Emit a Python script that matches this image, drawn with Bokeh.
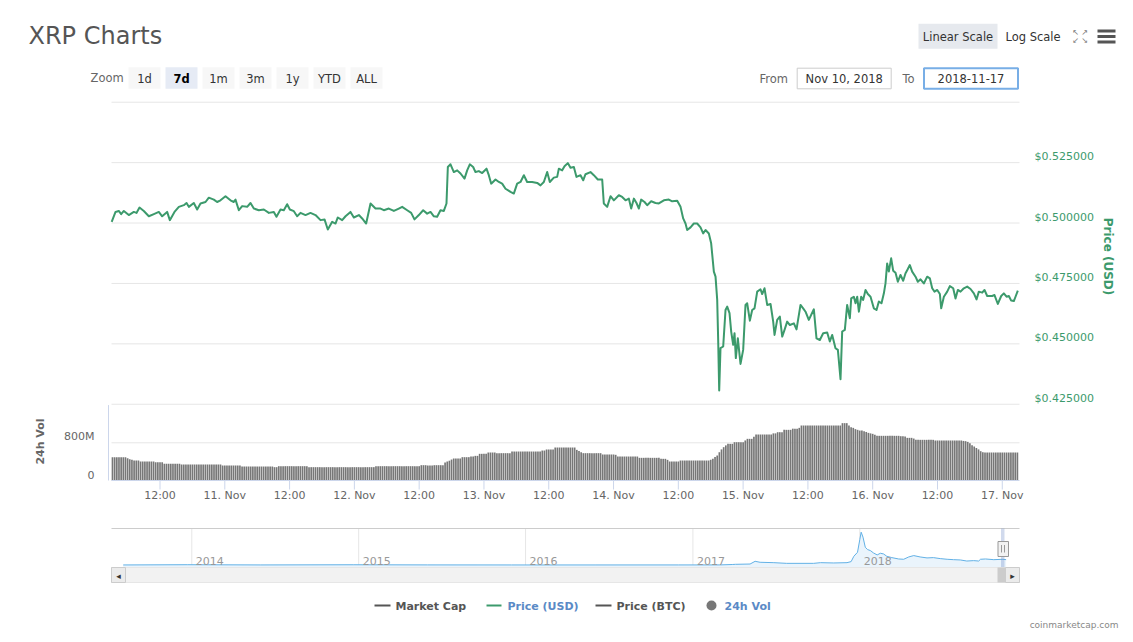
import math
import pandas as pd
from bokeh.plotting import figure
from bokeh.models import (Range1d, BoxAnnotation, Label, LabelSet, ColumnDataSource)
from bokeh.core.properties import value
from bokeh.embed import file_html
from bokeh.resources import INLINE

# ---------------- data ----------------
START = "2018-11-10 00:00"
WINDOW_START = "2018-11-10 03:00:54"
WINDOW_END = "2018-11-17 03:11:24"
PRICE_HOURS = [
    3.05, 3.76, 4.37, 4.80, 5.30, 6.22, 7.15, 7.64, 8.20, 9.00, 9.93, 10.86, 11.78, 12.40, 13.32,
    13.82, 14.68, 15.49, 16.41, 16.91, 17.34, 18.26, 18.88, 19.50, 20.43, 21.04, 21.97, 22.58,
    23.20, 24.13, 25.05, 25.67, 25.98, 26.60, 27.22, 28.14, 28.76, 29.38, 30.30, 31.23, 32.16,
    33.08, 33.57, 34.32, 34.93, 35.55, 36.05, 36.79, 37.40, 38.02, 38.95, 39.87, 40.80, 41.73,
    42.47, 43.08, 43.89, 44.50, 44.93, 45.74, 46.36, 47.28, 47.90, 48.83, 49.44, 50.18, 50.99,
    51.91, 52.84, 53.46, 54.38, 55.31, 56.23, 56.85, 57.78, 58.52, 59.13, 59.94, 60.74, 61.48,
    62.10, 62.72, 63.33, 63.95, 64.57, 65.06, 65.31, 65.80, 66.42, 67.04, 67.66, 68.40, 68.89,
    69.38, 70.00, 70.43, 71.05, 71.67, 72.47, 72.90, 73.34, 74.14, 74.76, 75.37, 75.99, 76.92,
    77.53, 78.15, 78.77, 79.39, 80.00, 80.93, 81.86, 82.47, 83.09, 83.71, 84.20, 84.94, 85.56,
    85.87, 86.49, 86.92, 87.53, 88.03, 88.65, 89.14, 89.88, 90.38, 90.81, 91.73, 92.35, 93.09,
    93.90, 94.20, 94.82, 95.44, 96.06, 96.98, 97.60, 98.22, 98.84, 99.27, 99.76, 100.25, 100.69,
    101.12, 101.74, 102.23, 102.97, 103.77, 104.39, 105.32, 106.24, 106.86, 107.79, 108.41,
    108.90, 109.33, 109.64, 110.26, 110.87, 111.49, 112.11, 112.60, 113.04, 113.65, 114.08,
    114.58, 114.89, 115.20, 115.38, 115.57, 115.81, 116.31, 116.74, 117.05, 117.48, 117.79,
    118.16, 118.41, 118.65, 119.02, 119.52, 120.01, 120.44, 120.75, 121.25, 121.68, 122.11,
    122.61, 123.22, 123.53, 123.96, 124.46, 125.08, 125.57, 125.82, 126.31, 126.80, 127.24,
    127.67, 128.16, 128.66, 129.40, 129.89, 130.63, 131.12, 131.56, 132.17, 133.10, 133.59,
    134.21, 134.83, 135.57, 136.06, 136.50, 137.11, 137.55, 138.04, 138.35, 138.84, 139.27,
    139.77, 140.02, 140.51, 140.82, 141.13, 141.44, 141.87, 142.24, 142.67, 143.10, 143.60,
    144.21, 144.71, 145.14, 145.63, 146.07, 146.37, 146.68, 146.99, 147.42, 147.79, 148.23,
    148.66, 149.15, 149.65, 150.08, 150.39, 150.88, 151.31, 151.93, 152.36, 152.86, 153.47,
    154.09, 154.59, 155.02, 155.45, 155.95, 156.44, 156.69, 157.18, 157.80, 158.29, 158.91,
    159.34, 159.77, 160.27, 160.88, 161.50, 162.12, 162.74, 163.23, 163.66, 164.28, 164.71,
    165.21, 166.13, 166.56, 167.18, 167.80, 168.29, 168.79, 169.22, 169.65, 170.14, 170.45,
    170.88,
]
PRICE_USD = [
    0.5005, 0.5046, 0.5050, 0.5037, 0.5050, 0.5033, 0.5046, 0.5042, 0.5064, 0.5050, 0.5028,
    0.5037, 0.5046, 0.5028, 0.5046, 0.5012, 0.5046, 0.5067, 0.5074, 0.5083, 0.5067, 0.5083,
    0.5056, 0.5081, 0.5087, 0.5105, 0.5097, 0.5087, 0.5094, 0.5111, 0.5094, 0.5087, 0.5097,
    0.5053, 0.5070, 0.5067, 0.5083, 0.5060, 0.5053, 0.5056, 0.5042, 0.5046, 0.5026, 0.5056,
    0.5053, 0.5078, 0.5056, 0.5049, 0.5028, 0.5042, 0.5033, 0.5042, 0.5033, 0.5012, 0.5015,
    0.4973, 0.5005, 0.4998, 0.5023, 0.5012, 0.5028, 0.5046, 0.5023, 0.5033, 0.5019, 0.4998,
    0.5081, 0.5060, 0.5060, 0.5053, 0.5060, 0.5050, 0.5060, 0.5067, 0.5053, 0.5042, 0.5015,
    0.5033, 0.5053, 0.5039, 0.5046, 0.5028, 0.5026, 0.5053, 0.5050, 0.5081, 0.5232, 0.5243,
    0.5211, 0.5218, 0.5205, 0.5184, 0.5218, 0.5243, 0.5232, 0.5211, 0.5215, 0.5207, 0.5225,
    0.5198, 0.5163, 0.5180, 0.5170, 0.5163, 0.5142, 0.5129, 0.5122, 0.5163, 0.5170, 0.5198,
    0.5170, 0.5170, 0.5166, 0.5156, 0.5170, 0.5211, 0.5170, 0.5188, 0.5191, 0.5225, 0.5218,
    0.5235, 0.5248, 0.5229, 0.5232, 0.5191, 0.5198, 0.5177, 0.5202, 0.5211, 0.5198, 0.5180,
    0.5180, 0.5081, 0.5067, 0.5111, 0.5094, 0.5115, 0.5108, 0.5094, 0.5101, 0.5060, 0.5101,
    0.5083, 0.5060, 0.5097, 0.5087, 0.5074, 0.5090, 0.5083, 0.5081, 0.5094, 0.5097, 0.5090,
    0.5092, 0.5067, 0.5019, 0.4998, 0.4971, 0.4982, 0.4998, 0.4998, 0.4982, 0.4957, 0.4971,
    0.4957, 0.4916, 0.4799, 0.4778, 0.4682, 0.4516, 0.4307, 0.4482, 0.4489, 0.4640, 0.4654,
    0.4627, 0.4551, 0.4496, 0.4544, 0.4441, 0.4523, 0.4417, 0.4475, 0.4661, 0.4668, 0.4596,
    0.4640, 0.4647, 0.4716, 0.4726, 0.4706, 0.4730, 0.4661, 0.4665, 0.4592, 0.4537, 0.4599,
    0.4613, 0.4530, 0.4558, 0.4592, 0.4578, 0.4585, 0.4560, 0.4661, 0.4647, 0.4633, 0.4599,
    0.4643, 0.4523, 0.4516, 0.4544, 0.4547, 0.4510, 0.4537, 0.4482, 0.4475, 0.4354, 0.4551,
    0.4558, 0.4661, 0.4606, 0.4688, 0.4695, 0.4668, 0.4695, 0.4633, 0.4695, 0.4682, 0.4723,
    0.4706, 0.4695, 0.4647, 0.4640, 0.4675, 0.4668, 0.4709, 0.4750, 0.4833, 0.4799, 0.4854,
    0.4803, 0.4794, 0.4757, 0.4785, 0.4761, 0.4792, 0.4805, 0.4826, 0.4799, 0.4778, 0.4757,
    0.4767, 0.4750, 0.4778, 0.4771, 0.4730, 0.4716, 0.4723, 0.4706, 0.4647, 0.4695, 0.4716,
    0.4739, 0.4730, 0.4688, 0.4723, 0.4716, 0.4730, 0.4737, 0.4727, 0.4709, 0.4684, 0.4716,
    0.4712, 0.4723, 0.4698, 0.4698, 0.4702, 0.4665, 0.4698, 0.4709, 0.4695, 0.4698, 0.4679,
    0.4677, 0.4695, 0.4720,
]

VOL_START = "2018-11-10 03:00"
VOL_STEP_MIN = 24
VOLUME_M = [
    495, 495, 495, 495, 495, 495, 495, 474, 450, 438, 424, 424, 424,
    403, 403, 403, 403, 403, 403, 403, 389, 389, 389, 389,
    354, 354, 354, 354, 354, 354, 354, 354,
    340, 340, 340, 340, 340, 340, 340, 340, 340, 340, 340, 340, 340, 340, 340, 340, 340, 340, 340,
    318, 318, 318, 318, 318, 318, 318, 318, 318,
    297, 297, 297, 297, 297, 297, 297, 297, 297, 297, 297, 297, 297, 297, 297,
    283, 283,
    304, 304, 304, 304, 304, 304, 304, 304, 304, 304, 304, 304, 304, 304,
    283, 283, 283, 283, 283, 283, 283, 283, 283, 283, 283, 283, 283, 283, 283, 283,
    283, 283, 283, 283, 283, 283, 283, 283, 283, 283, 283, 283, 283, 283, 283,
    304, 304, 304, 304, 304, 304, 304, 304, 304, 304, 304, 304, 304, 304, 304, 304,
    304, 304, 304, 304, 304,
    325, 325, 325, 318, 318, 318, 325, 325, 325, 325, 325,
    380, 403, 420, 445,
    467, 467, 467, 467, 495, 495, 495, 495, 510, 510, 523, 523,
    566, 566, 566, 566, 594, 594, 594, 594,
    580, 580, 580, 580, 580, 580, 580,
    615, 615, 615, 615, 615, 615, 615, 615, 615, 615, 615, 615, 615, 615,
    636, 636, 658, 658, 658, 658,
    700, 700, 700, 700, 700, 700, 700, 700, 700, 700,
    650, 625, 601,
    580, 580, 580, 580, 580, 580, 580, 580, 580,
    552, 552, 552, 552, 552, 552, 545,
    509, 509, 509, 509, 509, 509, 509, 509, 509, 509,
    481, 481, 481, 481, 481, 481, 481, 481, 481, 481,
    460, 460, 460, 438,
    403, 403, 403, 403, 403,
    424, 424, 424, 424, 424, 424, 424, 424, 424, 424, 424, 424, 424, 424,
    440, 460, 500, 530, 600, 660, 707, 745,
    778, 778, 778, 813, 813, 813, 813, 813, 850, 884, 884, 884, 930,
    976, 976, 976, 976, 976, 976, 976, 976, 1000, 1000, 1025, 1025, 1025,
    1075, 1075, 1075, 1075, 1100, 1100, 1100, 1117,
    1167, 1167, 1167, 1167, 1167, 1167, 1167, 1167, 1167, 1167, 1167, 1167, 1167, 1167,
    1167, 1167, 1167, 1167, 1167,
    1217, 1217, 1217,
    1167, 1130, 1117, 1090, 1075, 1060, 1060, 1047, 1030, 1011, 1000, 990, 970,
    948, 948, 948, 948, 948, 948, 948, 948, 948, 948, 948,
    940, 940, 933, 905, 905, 905, 890,
    863, 863, 863, 863, 863, 863, 863, 863, 863,
    849, 849, 849, 849, 849, 849, 849, 849, 849, 849, 849, 849, 849,
    840, 835, 820, 790, 750, 721, 690, 660, 622, 600,
    594, 594, 594, 594, 594, 594, 594, 594, 594, 594, 594, 594, 594, 594, 594, 594,
]

TICK_TIMES = ["2018-11-10 12:00", "2018-11-11 00:00", "2018-11-11 12:00", "2018-11-12 00:00",
              "2018-11-12 12:00", "2018-11-13 00:00", "2018-11-13 12:00", "2018-11-14 00:00",
              "2018-11-14 12:00", "2018-11-15 00:00", "2018-11-15 12:00", "2018-11-16 00:00",
              "2018-11-16 12:00", "2018-11-17 00:00"]
TICK_LABELS = ["12:00", "11. Nov", "12:00", "12. Nov", "12:00", "13. Nov", "12:00", "14. Nov",
               "12:00", "15. Nov", "12:00", "16. Nov", "12:00", "17. Nov"]
PRICE_TICKS = [0.425, 0.45, 0.475, 0.5, 0.525]
PRICE_GRID = [0.425, 0.45, 0.475, 0.5, 0.525, 0.55]
VOL_TICKS = [0, 800]
VOL_LABELS = ["0", "800M"]
VOL_TOP = 1600

NAV_DATES = ["2013-08-04", "2013-12-22", "2014-06-01", "2014-12-20", "2015-06-01", "2015-12-01",
             "2016-06-01", "2016-12-01", "2017-03-01", "2017-03-28", "2017-04-04", "2017-05-06",
             "2017-05-17", "2017-05-28", "2017-06-27", "2017-07-25", "2017-09-22", "2017-10-07",
             "2017-11-05", "2017-12-04", "2017-12-13", "2017-12-19", "2017-12-27", "2018-01-01",
             "2018-01-04", "2018-01-08", "2018-01-13", "2018-01-18", "2018-01-24", "2018-01-31",
             "2018-02-08", "2018-02-15", "2018-02-22", "2018-03-01", "2018-03-12", "2018-03-27",
             "2018-04-07", "2018-04-18", "2018-04-29", "2018-05-13", "2018-05-28", "2018-06-11",
             "2018-06-26", "2018-07-11", "2018-07-25", "2018-08-09", "2018-08-23", "2018-09-07",
             "2018-09-18", "2018-09-22", "2018-10-03", "2018-10-21", "2018-11-10", "2018-11-17"]
NAV_PRICE = [0.006, 0.03, 0.008, 0.025, 0.01, 0.006, 0.006, 0.007, 0.01, 0.05, 0.07, 0.10,
             0.38, 0.28, 0.24, 0.17, 0.17, 0.24, 0.21, 0.24, 0.35, 0.90, 1.31, 2.62,
             3.38, 2.87, 1.83, 1.59, 1.49, 1.24, 1.04, 1.21, 1.14, 0.90, 0.76, 0.62,
             0.59, 0.83, 0.97, 0.83, 0.73, 0.76, 0.66, 0.59, 0.55, 0.52, 0.41, 0.45,
             0.41, 0.59, 0.62, 0.55, 0.59, 0.55]
NAV_YEARS = ["2014-01-01", "2015-01-01", "2016-01-01", "2017-01-01", "2018-01-01"]
NAV_YEAR_LABELS = ["2014", "2015", "2016", "2017", "2018"]

ZOOM_BUTTONS = ["1d", "7d", "1m", "3m", "1y", "YTD", "ALL"]
LEGEND_ITEMS = ["Market Cap", "Price (USD)", "Price (BTC)", "24h Vol"]

# ---------------- styles / layout ----------------
GREEN = "#3c9a6c"
FONT = "DejaVu Sans"
W, H = 1130, 640


def ms(t):
    return pd.Timestamp(t).value / 1e6


# page layout: main plot area x 111..1019, price panel y 101..404, volume y 404..480,
# navigator y 528..567, scrollbar 567..582
PX0, PX1 = 111, 1019
TW0, TW1 = ms(WINDOW_START), ms(WINDOW_END)
t_px = (TW1 - TW0) / (PX1 - PX0)
P_TOP, P_BOT = 0.5503, 0.4249          # values at page y 101 and 404
k_p = (P_TOP - P_BOT) / (404 - 101)
k_v = 800 / 37.7                       # volume units per px, 0 at page y 480
a_ms, b_ms = ms("2014-01-01"), ms("2018-01-01")
n_px = (b_ms - a_ms) / (859.3 - 191.3)  # navigator: 2014 at x 191.3, 2018 at x 859.3
usd_px = (564.5 - 531.7) / 3.38         # navigator: $0 at y 564.5, $3.38 at y 531.7
NAV_FLOOR = -(567 - 564.5) / usd_px
NAV_CEIL = (564.5 - 528) / usd_px

p = figure(width=W, height=H,
           x_range=Range1d(TW0 - PX0 * t_px, TW0 + (W - PX0) * t_px),
           y_range=Range1d(P_TOP - (H - 101) * k_p, P_TOP + 101 * k_p),
           x_axis_location=None, y_axis_location=None, output_backend="svg",
           toolbar_location=None, title=None,
           min_border_left=0, min_border_right=0, min_border_top=0, min_border_bottom=0)
p.outline_line_color = None
p.background_fill_color = "white"
p.border_fill_color = "white"
p.grid.visible = False
p.extra_y_ranges = {"vol": Range1d(-(H - 480) * k_v, 480 * k_v),
                    "nav": Range1d(-(H - 564.5) / usd_px, 564.5 / usd_px)}
p.extra_x_ranges = {"nav": Range1d(a_ms - 191.3 * n_px, a_ms + (W - 191.3) * n_px)}


def box(x0, x1, y0, y1, fill, line=None, lw=1, radius=0, alpha=1.0):
    p.add_layout(BoxAnnotation(left=x0, right=x1, top=H - y0, bottom=H - y1,
                               left_units="screen", right_units="screen",
                               top_units="screen", bottom_units="screen",
                               fill_color=fill, fill_alpha=alpha,
                               line_color=line, line_alpha=1.0 if line else 0.0,
                               line_width=lw, border_radius=radius))


def txt(s, x, y, size="12px", color="#333333", style="normal", align="left", angle=0.0):
    p.add_layout(Label(x=x, y=H - y, x_units="screen", y_units="screen", text=s,
                       text_font=FONT, text_font_size=size, text_color=color,
                       text_font_style=style, text_align=align, text_baseline="middle",
                       angle=angle))


# ---------- price panel ----------
t0 = ms(START)
price_src = ColumnDataSource(dict(t=[t0 + h * 3600000.0 for h in PRICE_HOURS], p=PRICE_USD))
p.segment(x0=TW0, x1=TW1, y0=PRICE_GRID, y1=PRICE_GRID, line_color="#e6e6e6", line_width=1)
p.line(x="t", y="p", source=price_src, line_color=GREEN, line_width=2, line_join="round")
p.add_layout(LabelSet(x=PX1 + 15, y="y", x_units="screen", y_offset=6, text="text",
                      source=ColumnDataSource(dict(y=PRICE_TICKS,
                                                   text=["${:.6f}".format(v) for v in PRICE_TICKS])),
                      text_font=value(FONT), text_font_size=value("11px"),
                      text_color=GREEN, text_baseline="middle", text_align="left"))
txt("Price (USD)", 1107, 256, size="12px", color=GREEN, style="bold", align="center",
    angle=-math.pi / 2)

# ---------- volume panel ----------
v0 = ms(VOL_START)
step = VOL_STEP_MIN * 60000.0
vol_src = ColumnDataSource(dict(t=[v0 + (i + 0.5) * step for i in range(len(VOLUME_M))],
                                v=VOLUME_M))
p.segment(x0=TW0, x1=TW1, y0=[VOL_TICKS[1]], y1=[VOL_TICKS[1]], y_range_name="vol",
          line_color="#e6e6e6", line_width=1)
p.vbar(x="t", top="v", bottom=0, width=step * 0.78, source=vol_src, y_range_name="vol",
       fill_color="#777777", line_color=None)
p.segment(x0=TW0, x1=TW1, y0=[0], y1=[0], y_range_name="vol", line_color="#ccd6eb", line_width=1)
p.segment(x0=TW0 - 3 * t_px, x1=TW0 - 3 * t_px, y0=[0], y1=[VOL_TOP], y_range_name="vol",
          line_color="#ccd6eb", line_width=1)
tick_ms = [ms(t) for t in TICK_TIMES]
p.ray(x=tick_ms, y=0, length=9, length_units="screen", angle=-math.pi / 2, y_range_name="vol",
      line_color="#ccd6eb", line_width=1)
p.add_layout(LabelSet(x="x", y=H - 494.5, y_units="screen", text="text",
                      source=ColumnDataSource(dict(x=tick_ms, text=TICK_LABELS)),
                      text_font=value(FONT), text_font_size=value("11px"),
                      text_color="#666666", text_baseline="middle", text_align="center"))
p.add_layout(LabelSet(x=PX0 - 17, y="y", x_units="screen", y_offset=6, text="text",
                      y_range_name="vol",
                      source=ColumnDataSource(dict(y=VOL_TICKS, text=VOL_LABELS)),
                      text_font=value(FONT), text_font_size=value("11px"),
                      text_color="#666666", text_baseline="middle", text_align="right"))
txt("24h Vol", 40, 441, size="11px", color="#666666", style="bold", align="center",
    angle=math.pi / 2)

# ---------- navigator ----------
nav_src = ColumnDataSource(dict(t=[ms(d) for d in NAV_DATES], p=NAV_PRICE))
year_ms = [ms(d) for d in NAV_YEARS]
p.segment(x0=year_ms, x1=year_ms, y0=NAV_FLOOR, y1=NAV_CEIL, x_range_name="nav",
          y_range_name="nav", line_color="#e6e6e6", line_width=1)
p.varea(x="t", y1=NAV_FLOOR, y2="p", source=nav_src, x_range_name="nav", y_range_name="nav",
        fill_color="#eaf4fc")
p.line(x="t", y="p", source=nav_src, x_range_name="nav", y_range_name="nav",
       line_color="#62b1e6", line_width=1)
p.add_layout(LabelSet(x="x", y=H - 560.5, y_units="screen", text="text", x_range_name="nav",
                      source=ColumnDataSource(dict(x=year_ms, text=NAV_YEAR_LABELS)),
                      x_offset=4, text_font=value(FONT), text_font_size=value("11px"),
                      text_color="#999999", text_baseline="middle"))

box(111, 1019, 527.5, 528.5, "#cccccc")
box(1000.5, 1004, 528, 567, "#6685c2", alpha=0.3)
box(111, 1019, 567, 582, "#f2f2f2", line="#e6e6e6")
box(111, 125, 567, 582, "#ebebeb", line="#cccccc")
box(997, 1005, 567, 582, "#cccccc")
box(1005, 1019, 567, 582, "#ebebeb", line="#cccccc")
txt("\u25c2", 118, 575, size="9px", color="#333333", align="center")
txt("\u25b8", 1012, 575, size="9px", color="#333333", align="center")
box(997.5, 1008, 541, 556, "#f2f2f2", line="#999999")
box(1000.5, 1001.5, 544.5, 552, "#999999")
box(1003.5, 1004.5, 544.5, 552, "#999999")

# ---------- legend + credits ----------
LEG_COLORS = ["#555555", "#5a8ac6", "#555555", "#5a8ac6"]
LEG_TEXT_X = [395, 507, 616, 724]
SYM_COLORS = ["#555555", GREEN, "#555555", "#777777"]
box(374, 390, 604, 606, SYM_COLORS[0])
box(486, 501, 604, 606, SYM_COLORS[1])
box(595, 611, 604, 606, SYM_COLORS[2])
box(706, 716, 600, 610, SYM_COLORS[3], radius=5)
for name, col, x in zip(LEGEND_ITEMS, LEG_COLORS, LEG_TEXT_X):
    txt(name, x, 605.5, size="11px", color=col, style="bold")
txt("coinmarketcap.com", 1118, 624.5, size="9px", color="#888888", align="right")

# ---------- header ----------
txt("XRP Charts", 28, 35, size="24px", color="#555555")
txt("Zoom", 90, 77.5, size="11.5px", color="#666666")
for i, b in enumerate(ZOOM_BUTTONS):
    x0 = 128 + 37 * i
    sel = (b == "7d")
    box(x0, x0 + 32, 66.7, 88.3, "#e6ebf5" if sel else "#f7f7f7")
    txt(b, x0 + 16, 78, size="11.5px", color="#000000" if sel else "#333333",
        style="bold" if sel else "normal", align="center")
box(918, 997, 23.3, 48.3, "#e6e9ee")
txt("Linear Scale", 957.5, 36, size="11.5px", color="#333333", align="center")
txt("Log Scale", 1005, 36, size="11.5px", color="#333333")
for s, x, y in [("\u2196", 1075, 32), ("\u2197", 1084, 32), ("\u2199", 1075, 40), ("\u2198", 1084, 40)]:
    txt(s, x, y, size="8px", color="#777777", align="center")
for y0 in (29, 34.5, 40):
    box(1097, 1115, y0, y0 + 3, "#555555")
txt("From", 759, 78, size="11.5px", color="#666666")
box(796.7, 890.7, 67.7, 88.3, "#ffffff", line="#cccccc", lw=1)
txt("Nov 10, 2018", 843.7, 78, size="11.5px", color="#333333", align="center")
txt("To", 902, 78, size="11.5px", color="#666666")
box(923.5, 1017.5, 67.7, 88.3, "#ffffff", line="#78aee6", lw=2)
txt("2018-11-17", 970.5, 78, size="11.5px", color="#333333", align="center")

open("out.html", "w").write(file_html(p, INLINE))
